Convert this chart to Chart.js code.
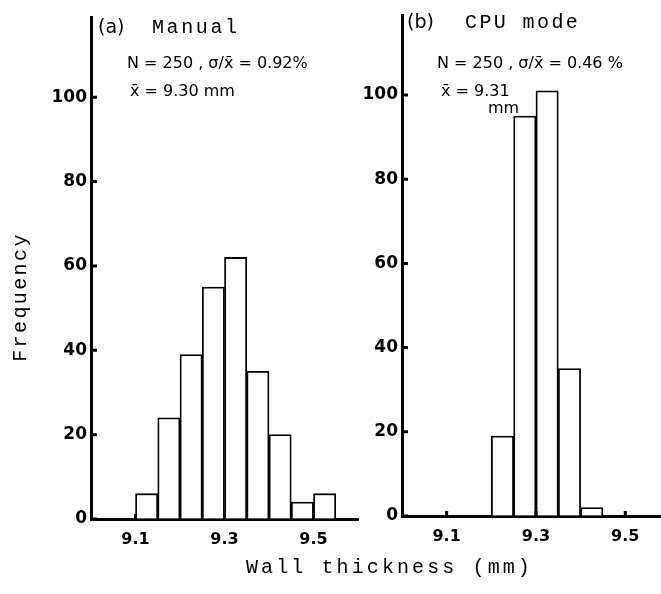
<!DOCTYPE html>
<html>
<head>
<meta charset="utf-8">
<script src="https://cdn.jsdelivr.net/npm/chart.js@4.4.0/dist/chart.umd.min.js"></script>
<style>
html, body { margin: 0; padding: 0; background: #fff; overflow: hidden; }
#wrap { position: relative; width: 661px; height: 594px; }
canvas { position: absolute; top: 0; }
#chartA { left: 0; }
#chartB { left: 340px; }
</style>
</head>
<body>
<div id="wrap">
  <canvas id="chartA" width="661" height="594"></canvas>
  <canvas id="chartB" width="321" height="594"></canvas>
</div>
<script>
// bin centres in mm, each bin is 0.05 mm wide
const BINS_MANUAL = [9.125, 9.175, 9.225, 9.275, 9.325, 9.375, 9.425, 9.475, 9.525];
const FREQ_MANUAL = [6, 24, 39, 55, 62, 35, 20, 4, 6];
const BINS_CPU = [9.225, 9.275, 9.325, 9.375, 9.425];
const FREQ_CPU = [19, 95, 101, 35, 2];
const X_TICKS = [9.1, 9.3, 9.5];
const Y_TICKS = [0, 20, 40, 60, 80, 100];

const MONO = "'Liberation Mono', monospace";
const SANS = "'DejaVu Sans', sans-serif";

// small inward ticks like the original figure
const innerTicks = {
    id: "innerTicks",
    afterDraw(chart) {
        const { ctx, chartArea: a, scales: { x, y } } = chart;
        ctx.save();
        ctx.strokeStyle = "#000";
        ctx.lineWidth = 3;
        ctx.beginPath();
        y.ticks.forEach((t) => {
            const py = y.getPixelForValue(t.value);
            ctx.moveTo(a.left, py);
            ctx.lineTo(a.left + 6, py);
        });
        x.ticks.forEach((t) => {
            const px = x.getPixelForValue(t.value);
            ctx.moveTo(px, a.bottom);
            ctx.lineTo(px, a.bottom - 5);
        });
        ctx.stroke();
        ctx.restore();
    },
};

const labels = {
    id: "labels",
    afterDraw(chart, args, opts) {
        const ctx = chart.ctx;
        (opts.items || []).forEach((it) => {
            ctx.save();
            ctx.font = it.font;
            ctx.fillStyle = "#000";
            ctx.letterSpacing = (it.sp || 0) + "px";
            ctx.textBaseline = "alphabetic";
            ctx.textAlign = it.align || "left";
            ctx.translate(it.x, it.y);
            if (it.rot) ctx.rotate(it.rot);
            ctx.fillText(it.text, 0, 0);
            ctx.restore();
        });
    },
};

function makeChart(id, bins, freq, xMax, yWidth, pad, items) {
    return new Chart(document.getElementById(id), {
        type: "bar",
        data: {
            datasets: [
                {
                    data: bins.map((b, i) => ({ x: b, y: freq[i] })),
                    backgroundColor: "#fff",
                    borderColor: "#000",
                    borderWidth: 1.8,
                    barPercentage: 1,
                    categoryPercentage: 1,
                },
            ],
        },
        options: {
            responsive: false,
            animation: false,
            layout: { padding: pad },
            plugins: {
                legend: { display: false },
                tooltip: { enabled: false },
                labels: { items: items },
            },
            scales: {
                x: {
                    type: "linear",
                    min: 9.0,
                    max: xMax,
                    offset: false,
                    z: 1,
                    afterBuildTicks: (s) => { s.ticks = X_TICKS.map((v) => ({ value: v })); },
                    afterFit: (s) => { s.height = 40; },
                    grid: { drawOnChartArea: false, drawTicks: false, offset: false },
                    border: { color: "#000", width: 3 },
                    ticks: {
                        padding: 11,
                        color: "#000",
                        maxRotation: 0,
                        font: { family: SANS, size: 16, weight: "bold" },
                        callback: (v) => v.toFixed(1),
                    },
                },
                y: {
                    min: 0,
                    max: 119,
                    z: 1,
                    afterBuildTicks: (s) => { s.ticks = Y_TICKS.map((v) => ({ value: v })); },
                    afterFit: (s) => { s.width = yWidth; },
                    grid: { drawOnChartArea: false, drawTicks: false },
                    border: { color: "#000", width: 3 },
                    ticks: {
                        padding: 4,
                        color: "#000",
                        font: { family: SANS, size: 17, weight: "bold" },
                        callback: (v) => String(v),
                    },
                },
            },
        },
        plugins: [innerTicks, labels],
    });
}

makeChart("chartA", BINS_MANUAL, FREQ_MANUAL, 9.6, 91,
    { left: 0, right: 303, top: 17, bottom: 35 },
    [
        { text: "(a)", x: 98, y: 33, font: "19px " + SANS },
        { text: "Manual", x: 152, y: 33, font: "20px " + MONO, sp: 2.6 },
        { text: "N = 250 , σ/x̄ = 0.92%", x: 127, y: 68, font: "16px " + SANS },
        { text: "x̄ = 9.30 mm", x: 130, y: 96, font: "16px " + SANS },
        { text: "Frequency", x: 26, y: 297, font: "20px " + MONO, sp: 2.4, align: "center", rot: -Math.PI / 2 },
        { text: "Wall thickness (mm)", x: 246, y: 573, font: "20px " + MONO, sp: 3.1 },
    ]);

makeChart("chartB", BINS_CPU, FREQ_CPU, 9.58, 62,
    { left: 0, right: 0, top: 15, bottom: 38 },
    [
        { text: "(b)", x: 67, y: 28, font: "19px " + SANS },
        { text: "CPU mode", x: 125, y: 28, font: "20px " + MONO, sp: 2.4 },
        { text: "N = 250 , σ/x̄ = 0.46 %", x: 97, y: 68, font: "16px " + SANS },
        { text: "x̄ = 9.31", x: 101, y: 96, font: "16px " + SANS },
        { text: "mm", x: 148, y: 113, font: "16px " + SANS },
    ]);
</script>
</body>
</html>
